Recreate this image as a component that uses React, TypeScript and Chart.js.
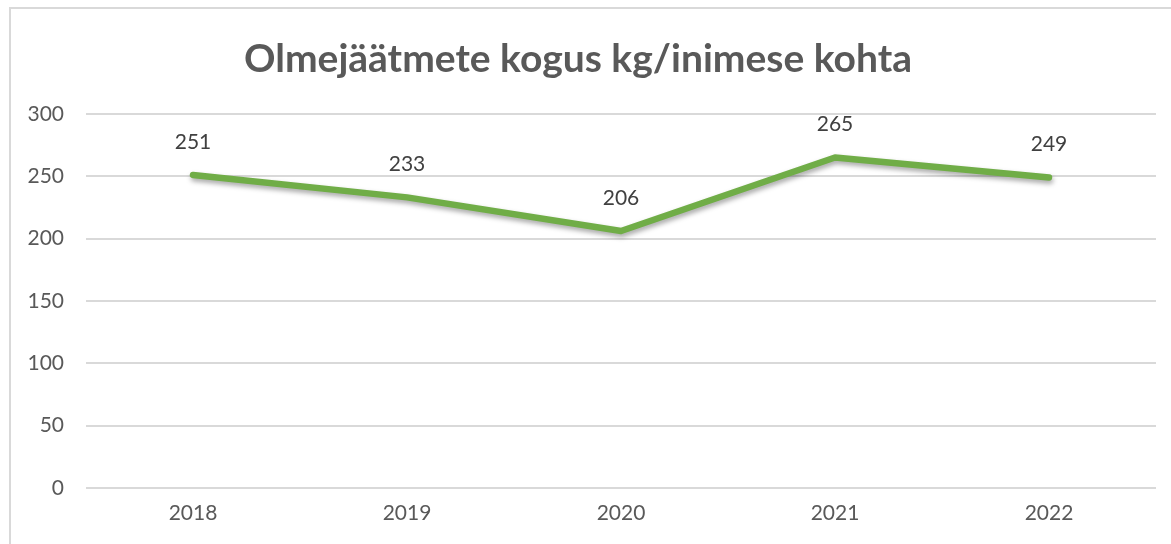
import React, { useEffect, useRef } from "react";
import { Chart, registerables } from "chart.js";

Chart.register(...registerables);

const categories = ["2018", "2019", "2020", "2021", "2022"];
const values = [251, 233, 206, 265, 249];
const yTicks = [0, 50, 100, 150, 200, 250, 300];
const titleText = "Olmejäätmete kogus kg/inimese kohta";

const FONT = "Lato, 'Open Sans', sans-serif";

const shadowPlugin = {
  id: "lineShadow",
  beforeDatasetDraw(chart: any) {
    const ctx = chart.ctx;
    ctx.save();
    ctx.shadowColor = "rgba(0,0,0,0.35)";
    ctx.shadowBlur = 5;
    ctx.shadowOffsetX = 1;
    ctx.shadowOffsetY = 3;
  },
  afterDatasetDraw(chart: any) {
    chart.ctx.restore();
  },
};

const labelPlugin = {
  id: "valueLabels",
  afterDatasetsDraw(chart: any) {
    const ctx = chart.ctx;
    const meta = chart.getDatasetMeta(0);
    const data = chart.data.datasets[0].data;
    ctx.save();
    ctx.font = `21px ${FONT}`;
    ctx.fillStyle = "#404040";
    ctx.textAlign = "center";
    ctx.textBaseline = "middle";
    meta.data.forEach((pt: any, i: number) => {
      ctx.fillText(String(data[i]), pt.x, pt.y - 33);
    });
    ctx.restore();
  },
};

export default function App() {
  const ref = useRef<HTMLCanvasElement>(null);
  useEffect(() => {
    if (!ref.current) return;
    const chart = new Chart(ref.current, {
      type: "line",
      data: {
        labels: categories,
        datasets: [
          {
            data: values,
            borderColor: "#70AD47",
            borderWidth: 6.5,
            pointRadius: 0,
            tension: 0,
            fill: false,
            borderCapStyle: "round",
            borderJoinStyle: "round",
          },
        ],
      },
      options: {
        animation: false,
        responsive: false,
        layout: { padding: { left: 0, right: 15, top: 0, bottom: 0 } },
        plugins: {
          legend: { display: false },
          tooltip: { enabled: false },
          title: {
            display: true,
            text: titleText,
            color: "#595959",
            font: { family: FONT, size: 39, weight: "bold" },
            padding: { top: 36, bottom: 31 },
          },
        },
        scales: {
          x: {
            offset: true,
            grid: { display: false, drawTicks: false },
            border: { display: false },
            ticks: {
              color: "#595959",
              font: { family: FONT, size: 21 },
              padding: 13,
            },
            afterFit(scale: any) {
              scale.height = 56;
            },
          },
          y: {
            min: 0,
            max: 300,
            afterBuildTicks(scale: any) {
              scale.ticks = yTicks.map((v) => ({ value: v }));
            },
            grid: { color: "#D9D9D9", lineWidth: 2, drawTicks: false },
            border: { display: false },
            ticks: {
              color: "#595959",
              font: { family: FONT, size: 21 },
              padding: 22,
            },
            afterFit(scale: any) {
              scale.width = 86;
            },
          },
        },
      },
      plugins: [shadowPlugin, labelPlugin],
    });
    return () => chart.destroy();
  }, []);
  return (
    <div
      style={{
        position: "fixed",
        left: 0,
        top: 0,
        width: 1171,
        height: 544,
        background: "#fff",
      }}
    >
      <div
        style={{
          position: "absolute",
          left: 9,
          top: 7,
          width: 1200,
          height: 600,
          border: "2px solid #D9D9D9",
          boxSizing: "border-box",
        }}
      />
      <canvas ref={ref} width={1171} height={544} style={{ position: "absolute", left: 0, top: 0 }} />
    </div>
  );
}
